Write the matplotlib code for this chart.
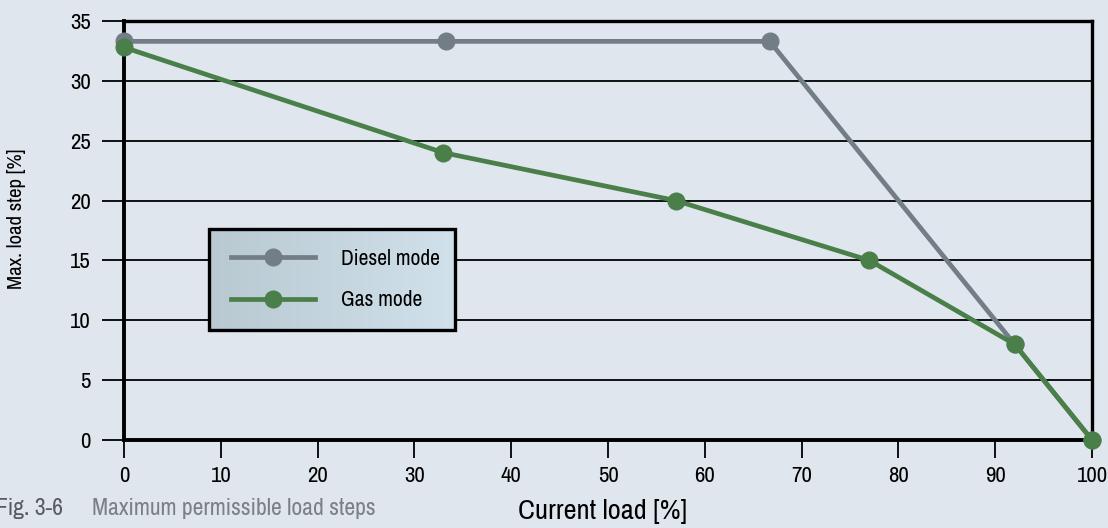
import numpy as np
import matplotlib.pyplot as plt
from matplotlib.patches import Rectangle
from matplotlib.lines import Line2D
from matplotlib.colors import LinearSegmentedColormap

plt.rcParams['font.family'] = ['Archivo Narrow', 'DejaVu Sans']

# data
diesel_x = [0, 33.3, 66.7, 92, 100]
diesel_y = [33.3, 33.3, 33.3, 8, 0]
gas_x = [0, 33, 57, 77, 92, 100]
gas_y = [32.8, 24, 20, 15, 8, 0]
xticks = list(range(0, 101, 10))
yticks = list(range(0, 36, 5))

bg = '#dfe6ed'
grey = '#737d86'
green = '#4a7f4a'

fig = plt.figure(figsize=(11.08, 5.28), dpi=100, facecolor=bg)
ax = fig.add_axes([0.1119, 0.1667, 0.8737, 0.7935])
ax.set_facecolor(bg)

ax.plot(diesel_x, diesel_y, color=grey, lw=3.4, marker='o', ms=12, clip_on=False, zorder=3)
ax.plot(gas_x, gas_y, color=green, lw=3.4, marker='o', ms=12, clip_on=False, zorder=4)

ax.set_xticks(xticks)
ax.set_yticks(yticks)
ax.grid(axis='y', color='black', lw=1.3, zorder=1)
ax.tick_params(axis='y', length=16, width=1.3, labelsize=16.5, pad=8, color='black')
ax.tick_params(axis='x', length=13, width=1.3, labelsize=16.5, pad=6, color='black')
for s in ['left', 'bottom']:
    ax.spines[s].set_linewidth(2.8)
for s in ['top', 'right']:
    ax.spines[s].set_linewidth(2.4)

# legend box with gradient
lx0, ly0, lw_, lh = 0.0878, 0.2625, 0.254, 0.241
grad = np.linspace(0, 1, 256).reshape(1, -1)
cmap = LinearSegmentedColormap.from_list('g', ['#b8c9d2', '#d0e1eb'])
ax.imshow(grad, extent=[lx0, lx0 + lw_, ly0, ly0 + lh], transform=ax.transAxes,
          cmap=cmap, aspect='auto', zorder=5)
ax.add_patch(Rectangle((lx0, ly0), lw_, lh, transform=ax.transAxes, fill=False,
                       ec='black', lw=2.4, zorder=6))
ax.set_xlim(0, 100)
ax.set_ylim(0, 35)
handles = [Line2D([], [], color=grey, lw=3.4, marker='o', ms=12),
           Line2D([], [], color=green, lw=3.4, marker='o', ms=12)]
leg = ax.legend(handles, ['Diesel mode', 'Gas mode'], loc='center',
                bbox_to_anchor=(lx0 + 0.004, ly0, lw_, lh), bbox_transform=ax.transAxes,
                frameon=False, fontsize=15.5, handlelength=3.9, handletextpad=1.2,
                labelspacing=1.0)
leg.set_zorder(7)

fig.text(0.0153, 0.585, 'Max. load step [%]', rotation=90, ha='center', va='center',
         fontsize=15)
fig.text(0.5435, 0.032, 'Current load [%]', ha='center', va='center', fontsize=20.5)
fig.text(-0.004, 0.036, 'Fig. 3-6', ha='left', va='center', fontsize=17, color='#555a5e')
fig.text(0.083, 0.036, 'Maximum permissible load steps', ha='left', va='center',
         fontsize=17, color='#7a8086')

fig.savefig('out.png', dpi=100, facecolor=bg)
